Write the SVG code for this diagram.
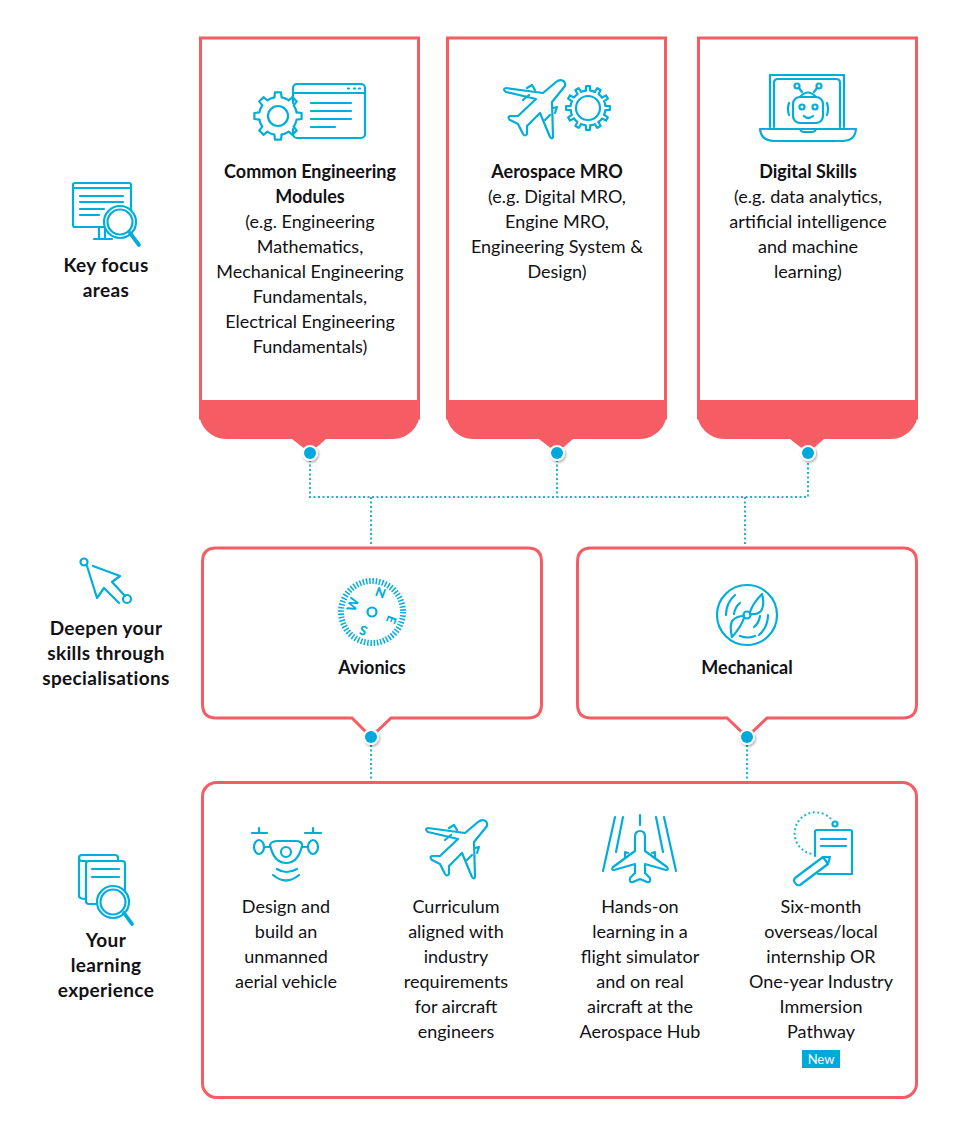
<svg xmlns="http://www.w3.org/2000/svg" width="958" height="1142" viewBox="0 0 958 1142">
<style>
text{font-family:"Lato","Liberation Sans",sans-serif;font-size:18px;fill:#111115;text-anchor:middle}
.b{font-weight:700}
.l{font-size:19px;letter-spacing:.35px}
.box{fill:#fff;stroke:#f65c63;stroke-width:3}
.red{fill:#f65c63}
.i{fill:none;stroke:#00aed9;stroke-width:2.200;stroke-linecap:round;stroke-linejoin:round}
.iw{fill:#fff;stroke:#00aed9;stroke-width:2.200;stroke-linecap:round;stroke-linejoin:round}
.h{stroke-width:3.800}
.c{fill:none;stroke:#1fb6c9;stroke-width:2;stroke-dasharray:2 2.500}
.ring{fill:#fff;filter:url(#sh)}
.dot{fill:#00a9dc}
.n{font-size:13px;font-weight:900;fill:#00aed9}
</style>
<defs>
<filter id="sh" x="-50%" y="-50%" width="200%" height="200%"><feDropShadow dx="1" dy="1.500" stdDeviation="1.200" flood-color="#000" flood-opacity=".35"/></filter>
<path id="t8" d="M-3.600,-18.600L-3,-23.600L3,-23.600L3.600,-18.600A19 19 0 0 1 10.600,-15.800"/>
<path id="t12" d="M-2.200,-17.400L-1.900,-21.900L1.900,-21.900L2.200,-17.400A17.500 17.500 0 0 1 6.840,-16.100"/>
<g id="plane">
<path d="M556,82C561,78 566,81 565,86L552,102L553,137Q552,140 550,137L540,113L527,126L527,134Q525,137 523,134L518,124L510,120Q507,117 510,116L518,116L536,99L506,92Q502,89 506,88L543,93Z"/>
<path d="M527,88L532,85L535,90M553,108L557,107L555,113M523,100L529,95M545,120L550,115"/>
</g>
</defs>

<g id="connectors">
<path class="c" d="M310,460V497H808V460M557,460V497M371,497V545M745,497V545M371,745V780M747,745V780"/>
</g>

<g id="focus-label">
<rect class="i" x="73" y="183" width="58" height="44" rx="2"/>
<path class="i" d="M73,188H131M80,196H123M80,202H123M80,209H104M80,215H99M99,227V238M105,227V238M94,239H112"/>
<circle class="iw" cx="120" cy="222" r="16"/>
<circle class="i" cx="120" cy="222" r="12.500"/>
<path class="i h" d="M130,233L139,245"/>
<text class="b l" x="106" y="272">Key focus</text>
<text class="b l" x="106" y="297">areas</text>
</g>

<g id="card-common">
<rect class="box" x="200.500" y="38" width="218" height="380"/>
<path class="red" d="M199,400H420V412A27,27 0 0 1 393,439H326L310,453L292,439H226A27,27 0 0 1 199,412Z"/>
<rect class="i" x="293" y="84" width="72" height="54" rx="4"/>
<path class="i" d="M293,93H365M311,103H351M311,111H351M311,119H351M311,127H335M348,88.500h1M354,88.500h1M359,88.500h1"/>
<circle cx="278" cy="116" r="19" fill="#fff"/>
<g class="i" transform="translate(278,116)">
<use href="#t8"/><use href="#t8" transform="rotate(45)"/><use href="#t8" transform="rotate(90)"/><use href="#t8" transform="rotate(135)"/><use href="#t8" transform="rotate(180)"/><use href="#t8" transform="rotate(225)"/><use href="#t8" transform="rotate(270)"/><use href="#t8" transform="rotate(315)"/>
<circle r="10"/>
</g>
<text class="b" x="310" y="178">Common Engineering</text>
<text class="b" x="310" y="203">Modules</text>
<text x="310" y="228">(e.g. Engineering</text>
<text x="310" y="253">Mathematics,</text>
<text x="310" y="278">Mechanical Engineering</text>
<text x="310" y="303">Fundamentals,</text>
<text x="310" y="328">Electrical Engineering</text>
<text x="310" y="353">Fundamentals)</text>
<circle class="ring" cx="310" cy="453" r="8"/><circle class="dot" cx="310" cy="453" r="6"/>
</g>

<g id="card-aerospace">
<rect class="box" x="447.500" y="38" width="218" height="380"/>
<path class="red" d="M446,400H667V412A27,27 0 0 1 640,439H573L557,453L539,439H473A27,27 0 0 1 446,412Z"/>
<use class="i" href="#plane"/>
<g class="i" transform="translate(588,108)">
<use href="#t12"/><use href="#t12" transform="rotate(30)"/><use href="#t12" transform="rotate(60)"/><use href="#t12" transform="rotate(90)"/><use href="#t12" transform="rotate(120)"/><use href="#t12" transform="rotate(150)"/><use href="#t12" transform="rotate(180)"/><use href="#t12" transform="rotate(210)"/><use href="#t12" transform="rotate(240)"/><use href="#t12" transform="rotate(270)"/><use href="#t12" transform="rotate(300)"/><use href="#t12" transform="rotate(330)"/>
<circle r="12"/>
</g>
<text class="b" x="557" y="178">Aerospace MRO</text>
<text x="557" y="203">(e.g. Digital MRO,</text>
<text x="557" y="228">Engine MRO,</text>
<text x="557" y="253">Engineering System &amp;</text>
<text x="557" y="278">Design)</text>
<circle class="ring" cx="557" cy="453" r="8"/><circle class="dot" cx="557" cy="453" r="6"/>
</g>

<g id="card-digital">
<rect class="box" x="698.500" y="38" width="218" height="380"/>
<path class="red" d="M697,400H918V412A27,27 0 0 1 891,439H824L808,453L790,439H724A27,27 0 0 1 697,412Z"/>
<path class="i" d="M770,127V75H844V127M774,127V83Q774,79 778,79H836Q840,79 840,83V127"/>
<path class="i" d="M760,129H856Q855,141 842,141H774Q761,141 760,129ZM800,129Q801,132 804,132H812Q815,132 816,129"/>
<rect class="i" x="793" y="97" width="30" height="26" rx="7"/>
<path class="i" d="M800,97Q808,88 816,97M802,92L799,88M814,92L817,88M789,103Q787,109 789,115M827,103Q829,109 827,115M804,116Q808,120 813,116"/>
<circle class="i" cx="797" cy="86" r="2.500"/><circle class="i" cx="819" cy="86" r="2.500"/>
<circle class="i" cx="802" cy="107" r="2.500"/><circle class="i" cx="815" cy="107" r="2.500"/>
<text class="b" x="808" y="178">Digital Skills</text>
<text x="808" y="203">(e.g. data analytics,</text>
<text x="808" y="228">artificial intelligence</text>
<text x="808" y="253">and machine</text>
<text x="808" y="278">learning)</text>
<circle class="ring" cx="808" cy="453" r="8"/><circle class="dot" cx="808" cy="453" r="6"/>
</g>

<g id="special-label">
<circle class="i" cx="84" cy="562" r="3.500"/><circle class="i" cx="127" cy="599" r="4"/>
<path class="i" d="M87,566L97,598L104,588L119,603M93,566L120,576L112,582L125,596"/>
<text class="b l" x="106" y="635">Deepen your</text>
<text class="b l" x="106" y="660">skills through</text>
<text class="b l" x="106" y="685">specialisations</text>
</g>

<g id="card-avionics">
<path class="box" d="M216,548H528Q541.500,548 541.500,562V704Q541.500,718 528,718H391L371,737L352,718H216Q202.500,718 202.500,704V562Q202.500,548 216,548Z"/>
<circle cx="372" cy="612" r="31" fill="none" stroke="#00aed9" stroke-width="6" stroke-dasharray="1.500 1.750"/>
<circle class="i" cx="372" cy="612" r="4.500"/>
<text class="n" transform="translate(379,597) rotate(20)">N</text>
<text class="n" transform="translate(387,618) rotate(110)">E</text>
<text class="n" transform="translate(365,626) rotate(200)">S</text>
<text class="n" transform="translate(357,606) rotate(290)">W</text>
<text class="b" x="372" y="674">Avionics</text>
<circle class="ring" cx="371" cy="737" r="8"/><circle class="dot" cx="371" cy="737" r="6"/>
</g>

<g id="card-mechanical">
<path class="box" d="M591,548H903Q916.500,548 916.500,562V704Q916.500,718 903,718H767L747,737L727,718H591Q577.500,718 577.500,704V562Q577.500,548 591,548Z"/>
<circle class="i" cx="747" cy="615" r="30"/>
<circle class="i" cx="747" cy="615" r="3.500"/>
<path class="i" d="M750,612Q753,603 762,594Q765,605 761,611Q757,615 750,614M744,618Q741,627 732,637Q729,624 733,620Q737,616 744,616"/>
<path class="i" d="M726,615Q726,603 735,595M734,614Q735,607 740,603M768,615Q768,627 759,635M760,616Q759,623 754,627M740,636Q748,639 755,636"/>
<text class="b" x="747" y="674">Mechanical</text>
<circle class="ring" cx="747" cy="737" r="8"/><circle class="dot" cx="747" cy="737" r="6"/>
</g>

<g id="learning-label">
<path class="i" d="M86,861H82Q79,861 79,858V858Q79,855 82,855H115Q118,855 118,858V861M79,858V896Q79,899 86,899"/>
<rect class="i" x="86" y="861" width="39" height="43" rx="3"/>
<path class="i" d="M92,869H119M92,877H119"/>
<circle class="iw" cx="113" cy="902" r="16"/><circle class="i" cx="113" cy="902" r="12.500"/>
<path class="i h" d="M124,913L132,924"/>
<text class="b l" x="106" y="947">Your</text>
<text class="b l" x="106" y="972">learning</text>
<text class="b l" x="106" y="997">experience</text>
</g>

<g id="card-learning">
<rect class="box" x="202.500" y="782.500" width="714" height="315" rx="14"/>
<g id="item-drone">
<path class="i" d="M252,833H267M259,828V833M305,833H321M313,828V833"/>
<ellipse class="i" cx="259" cy="847" rx="5" ry="7"/><ellipse class="i" cx="313" cy="847" rx="5" ry="7"/>
<path class="i" d="M264,847H270M302,847H308M270,845Q271,841 278,841H295Q303,841 302,846Q298,863 286,863Q274,863 270,845Z"/>
<circle class="i" cx="286" cy="852" r="5"/>
<path class="i" d="M277,869Q286,875 297,869M273,875Q286,886 299,875"/>
<text x="286" y="913">Design and</text><text x="286" y="938">build an</text><text x="286" y="963">unmanned</text><text x="286" y="988">aerial vehicle</text>
</g>
<g id="item-curriculum">
<use class="i" href="#plane" transform="translate(-78,740)"/>
<text x="456" y="913">Curriculum</text><text x="456" y="938">aligned with</text><text x="456" y="963">industry</text><text x="456" y="988">requirements</text><text x="456" y="1013">for aircraft</text><text x="456" y="1038">engineers</text>
</g>
<g id="item-simulator">
<path class="i" d="M615,817L603,871M623,817L616,852M640,815V825M656,817L663,852M664,817L676,871"/>
<path class="i" d="M635,837Q635,831 640,831Q645,831 645,837V851L667,867Q669,870 666,870L645,864V873L650,878Q651,883 647,882L640,879L633,882Q629,883 630,878L635,873V864L614,870Q611,870 613,867L635,851Z"/>
<path class="i" d="M625,858V852L628,853M655,858V852L652,853"/>
<text x="640" y="913">Hands-on</text><text x="640" y="938">learning in a</text><text x="640" y="963">flight simulator</text><text x="640" y="988">and on real</text><text x="640" y="1013">aircraft at the</text><text x="640" y="1038">Aerospace Hub</text>
</g>
<g id="item-internship">
<path class="c" d="M831,819A21,21 0 1 0 812,854"/>
<circle class="i" cx="835" cy="824" r="2.500"/>
<path class="i" d="M815,856V832Q815,830 817,830H850Q852,830 852,832V874H818M821,839H846M821,846H846"/>
<path class="iw" d="M795,878L823,857L830,857L828,864L800,885Q797,886 795,883Q793,880 795,878ZM823,857L828,864"/>
<text x="821" y="913">Six-month</text><text x="821" y="938">overseas/local</text><text x="821" y="963">internship OR</text><text x="821" y="988">One-year Industry</text><text x="821" y="1013">Immersion</text><text x="821" y="1038">Pathway</text>
<rect x="802" y="1050" width="38" height="18" fill="#00a9d8"/>
<text x="821" y="1064" style="fill:#fff;font-size:13px">New</text>
</g>
</g>
</svg>
